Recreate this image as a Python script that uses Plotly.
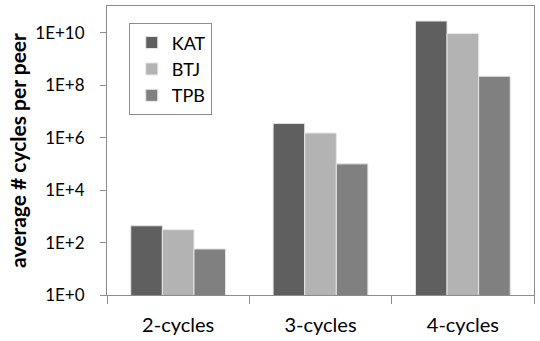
import plotly.graph_objects as go

categories = ["2-cycles", "3-cycles", "4-cycles"]
kat = [436, 3.5e6, 2.8e10]
btj = [309, 1.5e6, 9.4e9]
tpb = [57, 1.0e5, 2.2e8]
series_names = ["KAT", "BTJ", "TPB"]
series_colors = ["#5f5f5f", "#b3b3b3", "#808080"]
tick_vals = [1, 1e2, 1e4, 1e6, 1e8, 1e10]
tick_text = ["1E+0", "1E+2", "1E+4", "1E+6", "1E+8", "1E+10"]

FONT = "Lato"
fig = go.Figure()
for name, vals, col in zip(series_names, [kat, btj, tpb], series_colors):
    fig.add_trace(go.Bar(
        x=categories, y=vals, name=name,
        marker=dict(color=col, line=dict(color="#e6e6e6", width=1)),
    ))

fig.update_layout(
    width=540, height=341,
    margin=dict(l=107, r=5, t=5, b=45),
    paper_bgcolor="white", plot_bgcolor="white",
    barmode="group", bargap=0.334, bargroupgap=0,
    font=dict(family=FONT, color="#000000"),
    legend=dict(
        x=0.051, y=0.94, xanchor="left", yanchor="top",
        bordercolor="#8c8c8c", borderwidth=1,
        font=dict(family=FONT, size=18, color="#000000"),
        bgcolor="white",
        indentation=2,
        entrywidth=54, entrywidthmode="pixels",
    ),
    xaxis=dict(
        showline=True, linecolor="#8c8c8c", linewidth=1, mirror=True,
        ticks="outside", tickson="boundaries", ticklen=8, tickcolor="#8c8c8c",
        tickfont=dict(family=FONT, size=20, color="#000000"),
        ticklabelstandoff=12,
        showgrid=False,
    ),
    yaxis=dict(
        type="log", range=[0, 11.02],
        tickvals=tick_vals, ticktext=tick_text,
        showline=True, linecolor="#8c8c8c", linewidth=1, mirror=True,
        ticks="outside", ticklen=6, tickcolor="#8c8c8c",
        tickfont=dict(family=FONT, size=17, color="#000000"),
        ticklabelstandoff=12,
        showgrid=False, zeroline=False,
        title=dict(text="<b>average # cycles per peer</b>",
                   font=dict(family=FONT, size=21, color="#000000"),
                   standoff=2),
    ),
)

fig.write_html("out.html", config={"displayModeBar": False},
               post_script="document.body.style.margin='0';document.body.style.padding='0';")
